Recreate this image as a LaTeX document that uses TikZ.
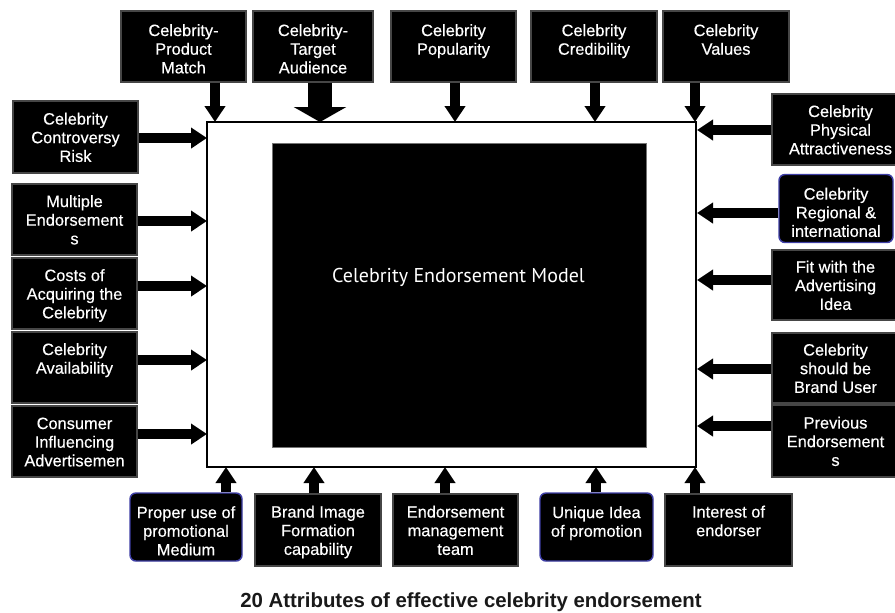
\documentclass[tikz,border=0pt]{standalone}
\usepackage{fontspec}
\setmainfont{Liberation Sans}
\newfontfamily\boxfont{Liberation Sans}[FakeBold=0.4]
\newfontfamily\modelfont{PT Sans}
\usetikzlibrary{arrows.meta}
\definecolor{rimblue}{RGB}{62,62,165}
\definecolor{rimgray}{RGB}{70,70,70}
\tikzset{
  wh/.style 2 args={minimum width=#1*0.75pt, minimum height=#2*0.75pt},
  attr/.style={fill=black, draw=rimgray, line width=0.8pt, text=white,
    font=\boxfont\fontsize{12.3}{14}\selectfont, align=center, inner sep=0pt,
    execute at begin node=\strut, execute at end node=\strut,
    text height=#1, text depth=4.2pt},
  attr/.default=41.5pt,
  attrround/.style={attr=46.8pt, draw=rimblue, line width=1.1pt, rounded corners=4.5pt},
  arr/.style={line width=7.5pt, -{Triangle[width=15pt,length=12pt]}},
  bigarr/.style={line width=18pt, -{Triangle[width=39pt,length=11.25pt]}},
}
\begin{document}
\begin{tikzpicture}[x=0.75pt,y=-0.75pt]
\clip (0,0) rectangle (895,612);
\fill[white] (0,0) rectangle (895,612);

% central frame and model
\node[draw=black, line width=1.1pt, fill=white, wh={489}{345}] (outer) at (451.5,294.5) {};
\node[fill=black, draw=black!55, line width=0.6pt, wh={374}{304}] (model) at (459,295) {};
\node[text=white, font=\modelfont\fontsize{15}{18}\selectfont] (modeltext) at (458.5,277) {Celebrity Endorsement Model};

% top row
\node[attr=44.5pt, wh={125}{71}] (t1) at (183.5,46.5) {Celebrity-\\Product\\Match};
\node[attr=44.5pt, wh={120}{71}] (t2) at (313,46.5) {Celebrity-\\Target\\Audience};
\node[attr=44.5pt, wh={125}{71}] (t3) at (453.5,46.5) {Celebrity\\Popularity\\};
\node[attr=44.5pt, wh={126}{71}] (t4) at (594,46.5) {Celebrity\\Credibility\\};
\node[attr=44.5pt, wh={126}{71}] (t5) at (726,46.5) {Celebrity\\Values\\};

% left column
\node[attr, wh={125}{72}] (l1) at (75.5,137) {Celebrity\\Controversy\\Risk};
\node[attr, wh={125}{71}] (l2) at (74.5,219.5) {Multiple\\Endorsement\\s};
\node[attr, wh={125}{71}] (l3) at (74.5,293.5) {Costs of\\Acquiring the\\Celebrity};
\node[attr, wh={125}{71}] (l4) at (74.5,367.5) {Celebrity\\Availability\\};
\node[attr, wh={125}{71}] (l5) at (74.5,441.5) {Consumer\\Influencing\\Advertisemen};

% right column
\node[attr, wh={137}{71}] (r1) at (840.5,129.5) {Celebrity\\Physical\\Attractiveness};
\node[attrround, wh={114}{59}] (r2) at (836,208.5) {Celebrity\\Regional \&\\international};
\node[attr, wh={127}{70}] (r3) at (835.5,285) {Fit with the\\Advertising\\Idea};
\node[attr, wh={127}{70}] (r4) at (835.5,368) {Celebrity\\should be\\Brand User};
\node[attr, wh={127}{72}] (r5) at (835.5,441) {Previous\\Endorsement\\s};

% bottom row
\node[attrround, wh={112}{60}] (b1) at (186,527) {Proper use of\\promotional\\Medium};
\node[attr, wh={126}{72}] (b2) at (318,530) {Brand Image\\Formation\\capability};
\node[attr, wh={125}{72}] (b3) at (455.5,530) {Endorsement\\management\\team};
\node[attrround, wh={113}{60}] (b4) at (596.5,527) {Unique Idea\\of promotion\\};
\node[attr, wh={127}{72}] (b5) at (728.5,530) {Interest of\\endorser\\};

% arrow end points on the frame
\coordinate (it1) at (215,122);
\coordinate (it2) at (320,122);
\coordinate (it3) at (455,122);
\coordinate (it4) at (595,122);
\coordinate (it5) at (695,122);
\coordinate (il1) at (207,138);
\coordinate (il2) at (207,221);
\coordinate (il3) at (207,286);
\coordinate (il4) at (207,360);
\coordinate (il5) at (207,434);
\coordinate (ir1) at (697,130);
\coordinate (ir2) at (697,213);
\coordinate (ir3) at (697,280);
\coordinate (ir4) at (697,369);
\coordinate (ir5) at (697,426);
\coordinate (ib1) at (226,467);
\coordinate (ib2) at (314,467);
\coordinate (ib3) at (445,467);
\coordinate (ib4) at (596,467);
\coordinate (ib5) at (695,467);

\draw[arr] (t1.south -| it1) -- (it1);
\draw[bigarr] (t2.south -| it2) -- (it2);
\draw[arr] (t3.south -| it3) -- (it3);
\draw[arr] (t4.south -| it4) -- (it4);
\draw[arr] (t5.south -| it5) -- (it5);

\draw[arr] (l1.east |- il1) -- (il1);
\draw[arr] (l2.east |- il2) -- (il2);
\draw[arr] (l3.east |- il3) -- (il3);
\draw[arr] (l4.east |- il4) -- (il4);
\draw[arr] (l5.east |- il5) -- (il5);

\draw[arr] (r1.west |- ir1) -- (ir1);
\draw[arr] (r2.west |- ir2) -- (ir2);
\draw[arr] (r3.west |- ir3) -- (ir3);
\draw[arr] (r4.west |- ir4) -- (ir4);
\draw[arr] (r5.west |- ir5) -- (ir5);

\draw[arr] (b1.north -| ib1) -- (ib1);
\draw[arr] (b2.north -| ib2) -- (ib2);
\draw[arr] (b3.north -| ib3) -- (ib3);
\draw[arr] (b4.north -| ib4) -- (ib4);
\draw[arr] (b5.north -| ib5) -- (ib5);

% caption
\node[anchor=base, font=\bfseries\fontsize{15.3}{18}\selectfont, text=black!90] (caption) at (471,607) {20 Attributes of effective celebrity endorsement};
\end{tikzpicture}
\end{document}
